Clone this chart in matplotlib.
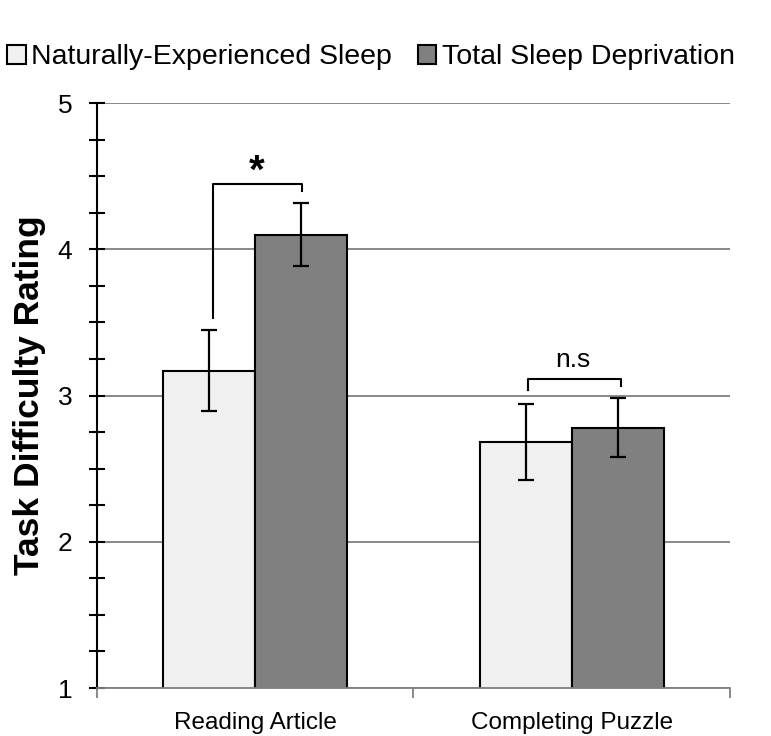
import matplotlib
matplotlib.use("Agg")
import matplotlib.pyplot as plt
import numpy as np
from matplotlib.ticker import MultipleLocator, FixedLocator, NullFormatter

plt.rcParams['font.family'] = ['Liberation Sans', 'DejaVu Sans']

categories = ["Reading Article", "Completing Puzzle"]
series_names = ["Naturally-Experienced Sleep", "Total Sleep Deprivation"]
natural = [3.17, 2.68]
natural_err = [0.275, 0.26]
deprived = [4.10, 2.78]
deprived_err = [0.215, 0.20]
sig_labels = ["*", "n.s"]

fig = plt.figure(figsize=(7.71, 7.36), dpi=100)
ax = fig.add_axes([0.1258, 0.0652, 0.821, 0.7948])

x = np.arange(len(categories))
w = 0.29
ax.set_ylim(1, 5)
ax.set_xlim(-0.5, 1.5)
ax.set_axisbelow(True)
ax.yaxis.grid(True, which='major', color='#808080', linewidth=1.3)

b1 = ax.bar(x - w/2, natural, w, bottom=0, color='#f0f0f0', edgecolor='black', linewidth=1.5,
            label=series_names[0], zorder=2)
b2 = ax.bar(x + w/2, deprived, w, bottom=0, color='#808080', edgecolor='black', linewidth=1.5,
            label=series_names[1], zorder=2)
ax.errorbar(x - w/2, natural, yerr=natural_err, fmt='none', ecolor='black', elinewidth=1.6,
            capsize=5.5, capthick=1.6, zorder=3)
ax.errorbar(x + w/2, deprived, yerr=deprived_err, fmt='none', ecolor='black', elinewidth=1.6,
            capsize=5.5, capthick=1.6, zorder=3)

# significance brackets
y_top0 = 4.446
ax.plot([-0.135, -0.135, 0.148, 0.148], [3.53, y_top0, y_top0, y_top0 - 0.045],
        color='black', lw=1.5, zorder=3)
ax.text(0.005, 4.53, sig_labels[0], ha='center', va='center', fontsize=29, fontweight='bold')
y_top1 = 3.113
ax.plot([1 - 0.137, 1 - 0.137, 1 + 0.157, 1 + 0.157], [y_top1 - 0.075, y_top1, y_top1, y_top1 - 0.05],
        color='black', lw=1.5, zorder=3)
ax.text(1.003, 3.245, sig_labels[1], ha='center', va='center', fontsize=19)

# axes styling
for s in ['top', 'right']:
    ax.spines[s].set_visible(False)
ax.spines['left'].set_linewidth(1.5)
ax.spines['bottom'].set_color('#808080')
ax.spines['bottom'].set_linewidth(1.3)
ax.yaxis.set_major_locator(MultipleLocator(1))
ax.yaxis.set_minor_locator(MultipleLocator(0.25))
ax.tick_params(axis='y', which='major', direction='inout', length=11.5, width=1.5, labelsize=19, pad=12)
ax.tick_params(axis='y', which='minor', direction='inout', length=11.5, width=1.5)

ax.set_xticks(x)
ax.set_xticklabels(categories, fontsize=17.5)
ax.xaxis.set_minor_locator(FixedLocator([-0.5, 0.5, 1.5]))
ax.xaxis.set_minor_formatter(NullFormatter())
ax.tick_params(axis='x', which='major', length=0, pad=17)
ax.tick_params(axis='x', which='minor', direction='out', length=7, width=1.3, color='#808080')

ax.set_ylabel("Task Difficulty Rating", fontsize=25.5, fontweight='bold', labelpad=8)

fig.legend(handles=[b1, b2], labels=series_names, loc='upper left', bbox_to_anchor=(-0.024, 0.975),
           ncol=2, frameon=False, fontsize=20.5, handlelength=0.65, handleheight=0.65,
           handletextpad=0.2, columnspacing=0.9)

fig.savefig("out.png", dpi=100)
